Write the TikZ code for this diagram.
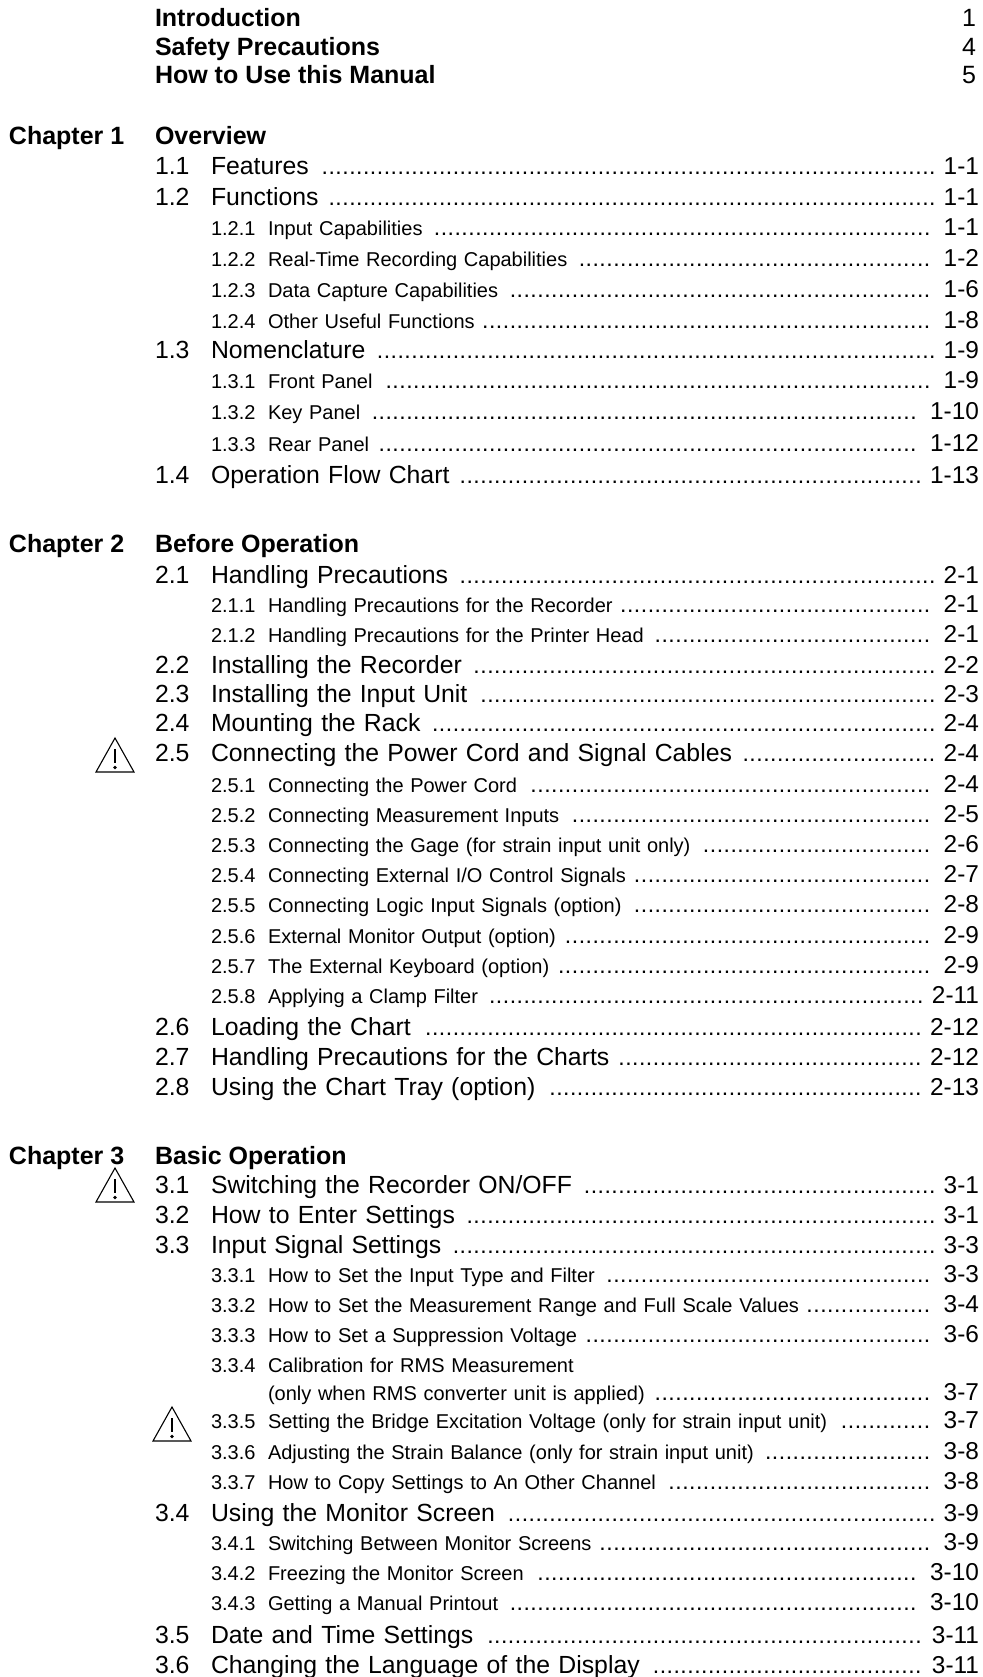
\documentclass[tikz,border=0pt]{standalone}
\usepackage{fontspec}
\setmainfont{Liberation Sans}
\usetikzlibrary{positioning}

\newcommand{\leaderdots}{\fontsize{23}{25}\selectfont\leaders\hbox to 6.9pt{\hss.\hss}\hfill}
\newcommand{\pagenum}[1]{{\fontsize{24.4}{26}\selectfont #1}}

\begin{document}
\begin{tikzpicture}[
		x=1pt, y=-1pt,
		inner sep=0pt, outer sep=0pt,
		front title/.style={anchor=base west, font=\fontsize{25}{27}\selectfont\bfseries},
		front page/.style={anchor=base east, font=\fontsize{25}{27}\selectfont},
		chapter title/.style={anchor=base west, font=\fontsize{25}{27}\selectfont\bfseries},
		section num/.style={anchor=base west, font=\fontsize{24.8}{27}\selectfont},
		section line/.style={anchor=base west, text width=768pt, font=\fontsize{24.8}{27}\selectfont},
		sub num/.style={anchor=base west, font=\fontsize{20}{22}\selectfont},
		sub line/.style={anchor=base west, text width=711pt, font=\fontsize{20}{22}\selectfont},
		warn sign/.pic={
			\draw[line width=1.1pt, line join=miter] (-19,17) -- (0,-17) -- (19,17) -- cycle;
			\draw[line width=1.1pt] (0,-6) -- (0,8);
			\fill (0,12.5) circle (1.9pt);
		}
		]
		
		\useasboundingbox (0,0) rectangle (982,1677);
		
		% ==========================================
		% 1. FRONT MATTER
		% ==========================================
		
		\foreach \y/\ttl/\pg [count=\i] in {27/Introduction/1, 56/Safety Precautions/4, 84/How to Use this Manual/5} {
			\node[front title] (front\i) at (155,\y) {\ttl};
			\node[front page] (frontpage\i) at (976,\y) {\pg};
		}
		
		% ==========================================
		% 2. CHAPTER HEADINGS
		% ==========================================
		
		\node[chapter title] (chap1) at (9,145) {Chapter 1};
		\node[chapter title] (chaptitle1) at (155,145) {Overview};
		\node[chapter title] (chap2) at (9,552) {Chapter 2};
		\node[chapter title] (chaptitle2) at (155,552) {Before Operation};
		\node[chapter title] (chap3) at (9,1164) {Chapter 3};
		\node[chapter title] (chaptitle3) at (155,1164) {Basic Operation};
		
		% ==========================================
		% 3. SECTIONS
		% ==========================================
		
		\foreach \y/\num/\ttl/\pg [count=\i] in {
			175/1.1/Features/1-1,
			206/1.2/Functions/1-1,
			358/1.3/Nomenclature/1-9,
			483/1.4/Operation Flow Chart/1-13,
			583/2.1/Handling Precautions/2-1,
			673/2.2/Installing the Recorder/2-2,
			702/2.3/Installing the Input Unit/2-3,
			731/2.4/Mounting the Rack/2-4,
			761/2.5/Connecting the Power Cord and Signal Cables/2-4,
			1035/2.6/Loading the Chart/2-12,
			1065/2.7/Handling Precautions for the Charts/2-12,
			1095/2.8/Using the Chart Tray (option)/2-13,
			1193/3.1/{Switching the Recorder ON/OFF}/3-1,
			1223/3.2/How to Enter Settings/3-1,
			1253/3.3/Input Signal Settings/3-3,
			1521/3.4/Using the Monitor Screen/3-9,
			1643/3.5/Date and Time Settings/3-11,
			1673/3.6/Changing the Language of the Display/3-11} {
			\node[section num] (secnum\i) at (155,\y) {\num};
			\node[section line] (sec\i) at (211,\y) {\ttl\ {\leaderdots}\hspace{8pt}\pagenum{\pg}};
		}
		
		% ==========================================
		% 4. SUBSECTIONS
		% ==========================================
		
		\foreach \y/\num/\ttl/\pg [count=\i] in {
			236/1.2.1/Input Capabilities/1-1,
			267/1.2.2/Real-Time Recording Capabilities/1-2,
			298/1.2.3/Data Capture Capabilities/1-6,
			328/1.2.4/Other Useful Functions/1-8,
			388/1.3.1/Front Panel/1-9,
			419/1.3.2/Key Panel/1-10,
			451/1.3.3/Rear Panel/1-12,
			612/2.1.1/Handling Precautions for the Recorder/2-1,
			642/2.1.2/Handling Precautions for the Printer Head/2-1,
			792/2.5.1/Connecting the Power Cord/2-4,
			822/2.5.2/Connecting Measurement Inputs/2-5,
			852/2.5.3/Connecting the Gage (for strain input unit only)/2-6,
			882/2.5.4/{Connecting External I/O Control Signals}/2-7,
			912/2.5.5/Connecting Logic Input Signals (option)/2-8,
			943/2.5.6/External Monitor Output (option)/2-9,
			973/2.5.7/The External Keyboard (option)/2-9,
			1003/2.5.8/Applying a Clamp Filter/2-11,
			1282/3.3.1/How to Set the Input Type and Filter/3-3,
			1312/3.3.2/How to Set the Measurement Range and Full Scale Values/3-4,
			1342/3.3.3/How to Set a Suppression Voltage/3-6,
			1372/3.3.4/Calibration for RMS Measurement/,
			1400//(only when RMS converter unit is applied)/3-7,
			1428/3.3.5/Setting the Bridge Excitation Voltage (only for strain input unit)/3-7,
			1459/3.3.6/Adjusting the Strain Balance (only for strain input unit)/3-8,
			1489/3.3.7/How to Copy Settings to An Other Channel/3-8,
			1550/3.4.1/Switching Between Monitor Screens/3-9,
			1580/3.4.2/Freezing the Monitor Screen/3-10,
			1610/3.4.3/Getting a Manual Printout/3-10} {
			\node[sub num] (subnum\i) at (211,\y) {\num};
			\node[sub line] (sub\i) at (268,\y) {\ttl\ifx\pg\empty\else\ {\leaderdots}\hspace{8pt}\pagenum{\pg}\fi};
		}
		
		% ==========================================
		% 5. WARNING SIGNS
		% ==========================================
		
		\pic (warn1) at (115,755) {warn sign};
		\pic (warn2) at (115,1185) {warn sign};
		\pic (warn3) at (172,1424) {warn sign};
		
	\end{tikzpicture}
\end{document}
